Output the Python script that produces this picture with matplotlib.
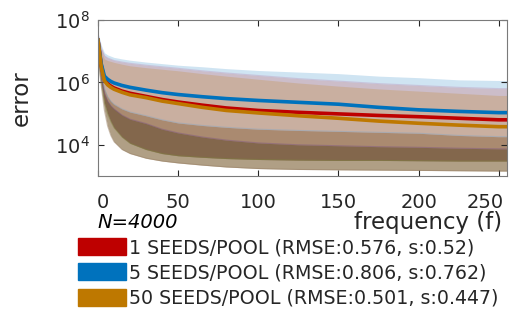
import numpy as np
import matplotlib
matplotlib.use('Agg')
import matplotlib.pyplot as plt
from matplotlib.patches import Patch
from matplotlib.transforms import ScaledTranslation

# frequency samples
freq = [0, 2, 4, 6, 8, 10, 15, 20, 30, 40, 50, 65, 80, 100, 125, 150, 175, 200, 225, 250, 255]

# log10(error) of the mean curves
red_mean = [7.35, 6.55, 6.1, 5.96, 5.88, 5.82, 5.72, 5.65, 5.55, 5.45, 5.37, 5.27, 5.18, 5.1, 5.04, 4.99, 4.94, 4.9, 4.85, 4.8, 4.8]
blue_mean = [7.35, 6.6, 6.2, 6.1, 6.03, 5.98, 5.9, 5.84, 5.75, 5.67, 5.61, 5.54, 5.48, 5.42, 5.36, 5.3, 5.2, 5.12, 5.07, 5.03, 5.03]
gold_mean = [7.35, 6.5, 6.05, 5.92, 5.84, 5.78, 5.68, 5.6, 5.51, 5.4, 5.32, 5.2, 5.1, 5.02, 4.93, 4.85, 4.76, 4.69, 4.63, 4.58, 4.58]

# log10 band edges
blue_hi = [7.6, 7.2, 6.95, 6.88, 6.84, 6.8, 6.75, 6.71, 6.65, 6.6, 6.55, 6.5, 6.44, 6.38, 6.33, 6.28, 6.2, 6.15, 6.08, 6.06, 6.06]
red_hi = [7.55, 7.1, 6.85, 6.78, 6.74, 6.7, 6.65, 6.61, 6.55, 6.5, 6.45, 6.37, 6.3, 6.22, 6.12, 6.04, 5.96, 5.9, 5.84, 5.8, 5.8]
gold_hi = [7.5, 7.0, 6.75, 6.7, 6.67, 6.64, 6.58, 6.53, 6.47, 6.42, 6.37, 6.28, 6.2, 6.1, 5.98, 5.88, 5.79, 5.72, 5.65, 5.58, 5.58]
blue_lo = [7.0, 6.3, 5.8, 5.55, 5.4, 5.3, 5.15, 5.05, 4.93, 4.8, 4.7, 4.62, 4.56, 4.5, 4.46, 4.43, 4.4, 4.37, 4.3, 4.26, 4.26]
red_lo = [6.9, 6.2, 5.65, 5.4, 5.25, 5.15, 4.95, 4.82, 4.68, 4.5, 4.38, 4.25, 4.15, 4.06, 4.0, 3.97, 3.94, 3.92, 3.89, 3.87, 3.87]
red_lo2 = [6.85, 6.0, 5.35, 5.0, 4.75, 4.55, 4.25, 4.05, 3.85, 3.72, 3.65, 3.6, 3.56, 3.53, 3.51, 3.5, 3.5, 3.49, 3.48, 3.48, 3.48]
gold_lo = [6.8, 5.9, 5.1, 4.6, 4.3, 4.1, 3.85, 3.72, 3.57, 3.48, 3.42, 3.35, 3.29, 3.24, 3.21, 3.2, 3.19, 3.18, 3.17, 3.16, 3.16]

labels = ['1 SEEDS/POOL (RMSE:0.576, s:0.52)',
          '5 SEEDS/POOL (RMSE:0.806, s:0.762)',
          '50 SEEDS/POOL (RMSE:0.501, s:0.447)']
RED = (0.745, 0.0, 0.0)
BLUE = (0.0, 0.447, 0.741)
GOLD = (0.745, 0.47, 0.0)
BROWN = (0.3, 0.22, 0.11)
GRAY = '#262626'

x = np.array(freq)
p = lambda v: 10.0 ** np.array(v)

fig = plt.figure(figsize=(5.13, 3.11), dpi=100)
ax = fig.add_axes([0.191, 0.434, 0.797, 0.502])

# spread bands: hi, lo, fill colour, alpha, upper edge colour, lower edge colour
bands = [(blue_hi, blue_lo, BLUE, 0.19, None, (0.55, 0.65, 0.75)),
         (red_hi, red_lo2, RED, 0.17, (0.75, 0.65, 0.78), (0.5, 0.5, 0.25)),
         (gold_hi, gold_lo, GOLD, 0.2, None, (0.6, 0.5, 0.4)),
         (blue_lo, gold_lo, BROWN, 0.4, None, None),
         (red_lo, red_lo2, BROWN, 0.42, (0.5, 0.35, 0.5), None)]
for hi, lo, c, a, ehi, elo in bands:
    ax.fill_between(x, p(lo), p(hi), color=c, alpha=a, lw=0)
    if ehi is not None:
        ax.plot(x, p(hi), color=ehi, alpha=0.5, lw=0.8)
    if elo is not None:
        ax.plot(x, p(lo), color=elo, alpha=0.5, lw=0.8)

ax.plot(x, p(red_mean), color=RED, lw=2.6)
ax.plot(x, p(blue_mean), color=BLUE, lw=2.6)
ax.plot(x, p(gold_mean), color=GOLD, lw=2.6)

ax.set_yscale('log')
ax.set_ylim(1e3, 1e8)
ax.set_xlim(0, 255)
ax.set_xticks([0, 50, 100, 150, 200, 250])
ax.set_yticks([1e4, 1e6, 1e8])
ax.minorticks_off()
ax.tick_params(direction='in', top=True, right=True, length=4, width=0.8,
               color=GRAY, labelcolor=GRAY, labelsize=14, pad=6)
ax.tick_params(axis='x', pad=12)
for s in ax.spines.values():
    s.set_color('#7a7a7a')
    s.set_linewidth(0.8)

# edge tick labels pulled inwards, as in the original
xl = ax.get_xticklabels()
xl[0].set_transform(xl[0].get_transform() + ScaledTranslation(5 / 100, 0, fig.dpi_scale_trans))
xl[-1].set_transform(xl[-1].get_transform() + ScaledTranslation(-14 / 100, 0, fig.dpi_scale_trans))

ax.set_ylabel('error', fontsize=16.5, color=GRAY, labelpad=16)
fig.text(502 / 513, 1 - 223 / 311, 'frequency (f)', ha='right', va='center',
         fontsize=16.5, color=GRAY)
fig.text(97 / 513, 1 - 223 / 311, 'N=4000', ha='left', va='center',
         fontsize=14, style='italic', color='black')

handles = [Patch(facecolor=c, edgecolor=c) for c in (RED, BLUE, GOLD)]
fig.legend(handles, labels, loc='upper left', bbox_to_anchor=(78 / 513, 1 - 238 / 311),
           frameon=False, fontsize=13.7, handlelength=2.5, handleheight=1.0,
           handletextpad=0.2, labelspacing=0.33, borderpad=0, borderaxespad=0,
           labelcolor=GRAY)

fig.savefig('out.png', dpi=100)
